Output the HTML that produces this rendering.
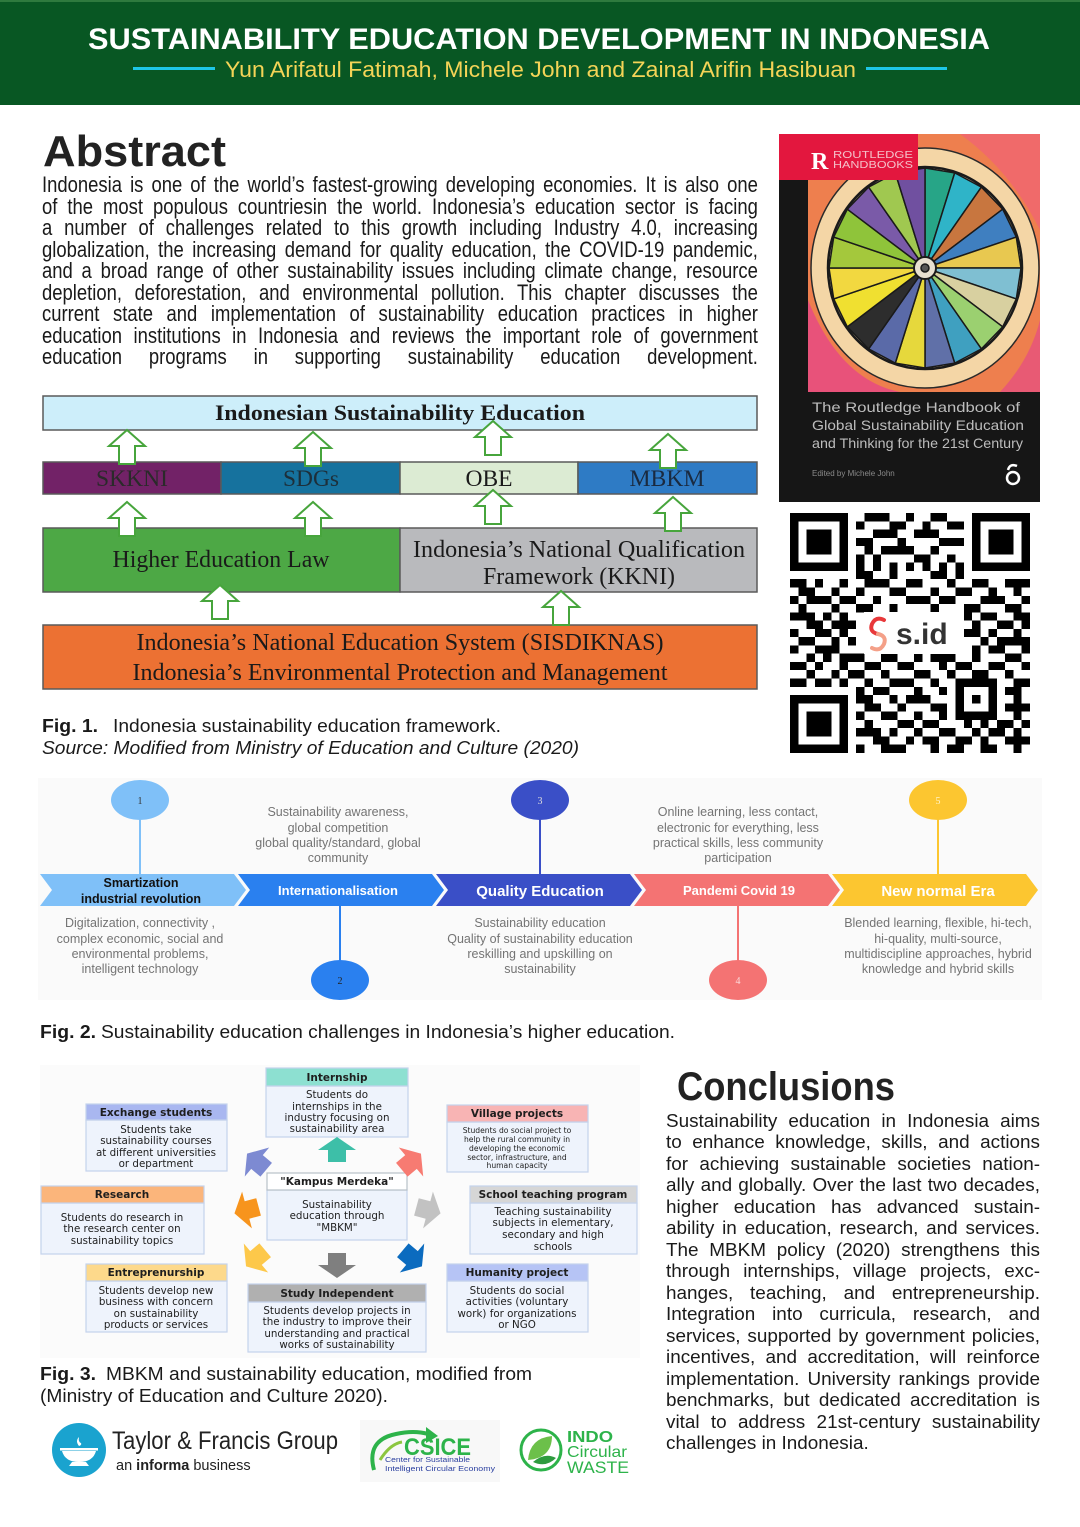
<!DOCTYPE html>
<html><head><meta charset="utf-8"><style>
html,body{margin:0;padding:0;background:#fff}
body{position:relative;width:1080px;height:1527px;overflow:hidden}
svg{display:block;position:absolute;left:0;top:0}
.abs{position:absolute;left:42px;top:174.4px;width:873px;transform:scaleX(0.82);transform-origin:0 0;font-family:"Liberation Sans",sans-serif;font-size:22.5px;line-height:21.5px;color:#1a1a1a}
.abs div,.con div{white-space:nowrap;text-align:justify;text-align-last:justify}
.con{position:absolute;left:666px;top:1110.6px;width:374px;font-family:"Liberation Sans",sans-serif;font-size:18.9px;line-height:21.5px;color:#1a1a1a}
.con div.last{text-align:left;text-align-last:left}
</style></head><body>
<svg xmlns="http://www.w3.org/2000/svg" width="1080" height="1527" viewBox="0 0 1080 1527" font-family="'Liberation Sans', sans-serif">
<rect width="1080" height="1527" fill="#fff"/>
<!-- HEADER -->
<rect x="0" y="0" width="1080" height="105" fill="#085723"/>
<rect x="0" y="0" width="1080" height="2" fill="#2e7a3e"/>
<text x="88" y="49" font-size="30" font-weight="bold" fill="#fff" textLength="902" lengthAdjust="spacingAndGlyphs">SUSTAINABILITY EDUCATION DEVELOPMENT IN INDONESIA</text>
<rect x="133" y="67" width="82" height="3" fill="#1ec6e6"/>
<rect x="866" y="67" width="81" height="3" fill="#1ec6e6"/>
<text x="225" y="77" font-size="22.5" fill="#f4d457" textLength="631" lengthAdjust="spacingAndGlyphs">Yun Arifatul Fatimah, Michele John and Zainal Arifin Hasibuan</text>

<!-- ABSTRACT heading -->
<text x="43" y="166" font-size="44" font-weight="bold" fill="#222" textLength="183" lengthAdjust="spacingAndGlyphs">Abstract</text>

<!-- FIG 1 -->
<g stroke="#5a5a5a" stroke-width="1.5">
<rect x="43" y="396" width="714" height="34" fill="#cdeefa"/>
<rect x="43" y="462" width="178" height="32" fill="#722267"/>
<rect x="221" y="462" width="179" height="32" fill="#16729e"/>
<rect x="400" y="462" width="178" height="32" fill="#dcebd3"/>
<rect x="578" y="462" width="179" height="32" fill="#2e7bc5"/>
<rect x="43" y="528" width="357" height="64" fill="#4da845"/>
<rect x="400" y="528" width="357" height="64" fill="#b9babd"/>
<rect x="43" y="625" width="714" height="64" fill="#ec7133"/>
</g>
<g font-family="'Liberation Serif', serif" fill="#1a1a1a" text-anchor="middle">
<text x="400" y="420" font-size="22" font-weight="bold" textLength="370" lengthAdjust="spacingAndGlyphs">Indonesian Sustainability Education</text>
<text x="132" y="486" font-size="23" fill="#2a2a2a" textLength="72" lengthAdjust="spacingAndGlyphs">SKKNI</text>
<text x="311" y="486" font-size="23" fill="#1d2f3a" textLength="56" lengthAdjust="spacingAndGlyphs">SDGs</text>
<text x="489" y="486" font-size="23" textLength="47" lengthAdjust="spacingAndGlyphs">OBE</text>
<text x="667" y="486" font-size="23" fill="#1a2a40" textLength="75" lengthAdjust="spacingAndGlyphs">MBKM</text>
<text x="221" y="567" font-size="24" textLength="217" lengthAdjust="spacingAndGlyphs">Higher Education Law</text>
<text x="579" y="557" font-size="24" textLength="332" lengthAdjust="spacingAndGlyphs">Indonesia’s National Qualification</text>
<text x="579" y="584" font-size="24" textLength="192" lengthAdjust="spacingAndGlyphs">Framework (KKNI)</text>
<text x="400" y="650" font-size="24" textLength="527" lengthAdjust="spacingAndGlyphs">Indonesia’s National Education System (SISDIKNAS)</text>
<text x="400" y="680" font-size="24" textLength="535" lengthAdjust="spacingAndGlyphs">Indonesia’s Environmental Protection and Management</text>
</g>
<g fill="#fff" stroke="#47a53c" stroke-width="2" stroke-linejoin="miter">
<polygon points="127,430 145,446 135,446 135,464 119,464 119,446 109,446"/>
<polygon points="313,432 331,448 321,448 321,466 305,466 305,448 295,448"/>
<polygon points="493,421 511,437 501,437 501,455 485,455 485,437 475,437"/>
<polygon points="668,434 686,450 676,450 676,468 660,468 660,450 650,450"/>
<polygon points="127,502 145,518 135,518 135,536 119,536 119,518 109,518"/>
<polygon points="313,502 331,518 321,518 321,536 305,536 305,518 295,518"/>
<polygon points="493,490 511,506 501,506 501,524 485,524 485,506 475,506"/>
<polygon points="673,497 691,513 681,513 681,531 665,531 665,513 655,513"/>
<polygon points="220,585 238,601 228,601 228,619 212,619 212,601 202,601"/>
<polygon points="561,591 579,607 569,607 569,625 553,625 553,607 543,607"/>
</g>
<g font-size="18.5" fill="#1a1a1a">
<text x="42" y="732" font-weight="bold" textLength="56" lengthAdjust="spacingAndGlyphs">Fig. 1.</text>
<text x="113" y="732" textLength="388" lengthAdjust="spacingAndGlyphs">Indonesia sustainability education framework.</text>
<text x="42" y="754" font-style="italic" textLength="537" lengthAdjust="spacingAndGlyphs">Source: Modified from Ministry of Education and Culture (2020)</text>
</g>

<!-- BOOK COVER -->
<rect x="779" y="134" width="261" height="368" fill="#161616"/>
<rect x="808" y="134" width="232" height="258" fill="#ee7f4e"/>
<path d="M808 300 Q840 380 900 392 L808 392Z" fill="#e8527a"/>
<path d="M960 134 Q1010 170 1040 230 L1040 134Z" fill="#f06a6a"/>
<path d="M1000 392 Q1030 360 1040 320 L1040 392Z" fill="#e85a74"/>
<ellipse cx="925" cy="268" rx="114" ry="120" fill="#f4d6a6" stroke="#2a2a2a" stroke-width="1.5"/>
<g stroke="#1a1a1a" stroke-width="1.5" stroke-linejoin="round" transform="translate(0 2)">
<polygon points="925,266 925,166 954.7,170.9" fill="#27a587"/>
<polygon points="925,266 954.7,170.9 981.4,185.1" fill="#2fb4c8"/>
<polygon points="925,266 981.4,185.1 1002.7,207.2" fill="#c8763f"/>
<polygon points="925,266 1002.7,207.2 1016.3,235.1" fill="#3f7fc0"/>
<polygon points="925,266 1016.3,235.1 1021,266" fill="#e8c850"/>
<polygon points="925,266 1021,266 1016.3,296.9" fill="#7fbfd2"/>
<polygon points="925,266 1016.3,296.9 1002.7,324.8" fill="#d8d0a0"/>
<polygon points="925,266 1002.7,324.8 981.4,346.9" fill="#9bd070"/>
<polygon points="925,266 981.4,346.9 954.7,361.1" fill="#3fa0c0"/>
<polygon points="925,266 954.7,361.1 925,366" fill="#6070a8"/>
<polygon points="925,266 925,366 895.3,361.1" fill="#e6d83c"/>
<polygon points="925,266 895.3,361.1 868.6,346.9" fill="#5a6aa8"/>
<polygon points="925,266 868.6,346.9 847.3,324.8" fill="#2d2d2d"/>
<polygon points="925,266 847.3,324.8 833.7,296.9" fill="#f0e030"/>
<polygon points="925,266 833.7,296.9 829,266" fill="#f2d840"/>
<polygon points="925,266 829,266 833.7,235.1" fill="#a4c83c"/>
<polygon points="925,266 833.7,235.1 847.3,207.2" fill="#8fc43a"/>
<polygon points="925,266 847.3,207.2 868.6,185.1" fill="#7a5aa8"/>
<polygon points="925,266 868.6,185.1 895.3,170.9" fill="#a0c850"/>
<polygon points="925,266 895.3,170.9 925,166" fill="#7050a0"/>
<ellipse cx="925" cy="266" rx="97" ry="101" fill="none" stroke-width="2.5"/>
<circle cx="925" cy="266" r="11" fill="#e8e0d0" stroke-width="2"/>
<circle cx="925" cy="266" r="4" fill="#555"/>
</g>
<rect x="779" y="134" width="139" height="46" fill="#e3173e"/>
<text x="811" y="169" font-size="24" font-weight="bold" fill="#fff" font-family="'Liberation Serif', serif">R</text>
<text x="833" y="158" font-size="10" fill="#f4c0c8" textLength="80" lengthAdjust="spacingAndGlyphs">ROUTLEDGE</text>
<text x="833" y="168" font-size="10" fill="#f4c0c8" textLength="80" lengthAdjust="spacingAndGlyphs">HANDBOOKS</text>
<g font-size="14" fill="#bdbdbd">
<text x="812" y="412" textLength="208" lengthAdjust="spacingAndGlyphs">The Routledge Handbook of</text>
<text x="812" y="430" textLength="212" lengthAdjust="spacingAndGlyphs">Global Sustainability Education</text>
<text x="812" y="448" textLength="211" lengthAdjust="spacingAndGlyphs">and Thinking for the 21st Century</text>
</g>
<text x="812" y="476" font-size="8" fill="#8a8a8a">Edited by Michele John</text>
<circle cx="1013" cy="478" r="6" fill="none" stroke="#fff" stroke-width="2.5"/>
<path d="M1008 470 Q1010 463 1017 466" fill="none" stroke="#fff" stroke-width="2.5"/>

<!-- QR -->
<rect x="786" y="509" width="248" height="248" fill="#fff"/>
<g transform="translate(790 513) scale(8.275)" shape-rendering="crispEdges">
<g fill="#000">
<rect x="0" y="0" width="7" height="7"/><rect x="22" y="0" width="7" height="7"/><rect x="0" y="22" width="7" height="7"/>
</g>
<g fill="#fff">
<rect x="1" y="1" width="5" height="5"/><rect x="23" y="1" width="5" height="5"/><rect x="1" y="23" width="5" height="5"/>
</g>
<g fill="#000">
<rect x="2" y="2" width="3" height="3"/><rect x="24" y="2" width="3" height="3"/><rect x="2" y="24" width="3" height="3"/>
<path d="M9 0h3v1h-3zM14 0h1v1h-1zM17 0h2v1h-2zM8 1h1v1h-1zM12 1h2v1h-2zM16 1h1v1h-1zM19 1h2v1h-2zM10 2h3v1h-3zM15 2h3v1h-3zM8 3h2v1h-2zM13 3h1v1h-1zM18 3h3v1h-3zM9 4h1v1h-1zM11 4h4v1h-4zM17 4h1v1h-1zM8 5h1v1h-1zM10 5h1v1h-1zM15 5h2v1h-2zM19 5h1v1h-1zM8 6h1v1h-1zM10 6h1v1h-1zM12 6h1v1h-1zM14 6h1v1h-1zM16 6h1v1h-1zM18 6h1v1h-1zM20 6h1v1h-1zM8 7h2v1h-2zM12 7h1v1h-1zM17 7h2v1h-2zM20 7h1v1h-1zM0 8h2v1h-2zM3 8h1v1h-1zM6 8h1v1h-1zM9 8h3v1h-3zM14 8h2v1h-2zM19 8h1v1h-1zM22 8h2v1h-2zM26 8h3v1h-3zM1 9h2v1h-2zM5 9h1v1h-1zM8 9h1v1h-1zM12 9h2v1h-2zM17 9h1v1h-1zM20 9h2v1h-2zM24 9h1v1h-1zM27 9h1v1h-1zM0 10h1v1h-1zM2 10h3v1h-3zM6 10h2v1h-2zM10 10h1v1h-1zM14 10h3v1h-3zM18 10h2v1h-2zM23 10h3v1h-3zM28 10h1v1h-1zM1 11h1v1h-1zM5 11h1v1h-1zM8 11h2v1h-2zM12 11h1v1h-1zM17 11h1v1h-1zM21 11h2v1h-2zM26 11h2v1h-2zM0 12h3v1h-3zM4 12h1v1h-1zM6 12h1v1h-1zM21 12h1v1h-1zM23 12h2v1h-2zM27 12h2v1h-2zM2 13h2v1h-2zM5 13h3v1h-3zM22 13h1v1h-1zM25 13h2v1h-2zM28 13h1v1h-1zM0 14h1v1h-1zM3 14h2v1h-2zM6 14h1v1h-1zM21 14h2v1h-2zM24 14h1v1h-1zM27 14h1v1h-1zM1 15h2v1h-2zM5 15h1v1h-1zM7 15h1v1h-1zM23 15h1v1h-1zM25 15h4v1h-4zM0 16h1v1h-1zM3 16h3v1h-3zM22 16h1v1h-1zM24 16h2v1h-2zM28 16h1v1h-1zM2 17h1v1h-1zM4 17h1v1h-1zM6 17h3v1h-3zM11 17h2v1h-2zM15 17h1v1h-1zM17 17h3v1h-3zM22 17h1v1h-1zM26 17h2v1h-2zM0 18h2v1h-2zM3 18h1v1h-1zM6 18h1v1h-1zM9 18h2v1h-2zM13 18h2v1h-2zM18 18h1v1h-1zM20 18h2v1h-2zM24 18h2v1h-2zM28 18h1v1h-1zM2 19h1v1h-1zM5 19h1v1h-1zM7 19h2v1h-2zM11 19h1v1h-1zM15 19h2v1h-2zM19 19h1v1h-1zM22 19h2v1h-2zM26 19h1v1h-1zM0 20h2v1h-2zM3 20h2v1h-2zM6 20h1v1h-1zM9 20h1v1h-1zM12 20h3v1h-3zM17 20h1v1h-1zM20 20h5v1h-5zM27 20h2v1h-2zM8 21h1v1h-1zM10 21h2v1h-2zM15 21h1v1h-1zM18 21h1v1h-1zM20 21h1v1h-1zM24 21h1v1h-1zM26 21h2v1h-2zM8 22h2v1h-2zM12 22h1v1h-1zM14 22h3v1h-3zM20 22h1v1h-1zM22 22h1v1h-1zM24 22h1v1h-1zM27 22h1v1h-1zM9 23h2v1h-2zM13 23h1v1h-1zM17 23h2v1h-2zM20 23h1v1h-1zM24 23h1v1h-1zM26 23h3v1h-3zM8 24h1v1h-1zM11 24h2v1h-2zM15 24h1v1h-1zM18 24h1v1h-1zM20 24h5v1h-5zM27 24h1v1h-1zM9 25h1v1h-1zM13 25h2v1h-2zM16 25h2v1h-2zM21 25h1v1h-1zM23 25h1v1h-1zM25 25h2v1h-2zM28 25h1v1h-1zM8 26h3v1h-3zM12 26h1v1h-1zM15 26h1v1h-1zM18 26h2v1h-2zM22 26h1v1h-1zM24 26h2v1h-2zM27 26h1v1h-1zM10 27h2v1h-2zM14 27h1v1h-1zM16 27h2v1h-2zM20 27h2v1h-2zM23 27h1v1h-1zM26 27h3v1h-3zM8 28h1v1h-1zM11 28h3v1h-3zM17 28h1v1h-1zM19 28h2v1h-2zM23 28h2v1h-2zM27 28h1v1h-1z"/>
</g>
</g>
<rect x="864" y="612" width="96" height="42" fill="#fff"/>
<path d="M884 620 Q876 616 872 624 Q869 632 878 634" fill="none" stroke="#e8383a" stroke-width="4" stroke-linecap="round"/>
<path d="M878 634 Q887 636 884 644 Q880 652 872 648" fill="none" stroke="#f4a088" stroke-width="4" stroke-linecap="round"/>
<text x="896" y="644" font-size="30" font-weight="bold" fill="#333">s.id</text>

<!-- FIG 2 -->
<rect x="38" y="778" width="1004" height="222" fill="#fafafa"/>
<g stroke-width="2">
<line x1="140" y1="818" x2="140" y2="876" stroke="#7fc0f8"/>
<line x1="340" y1="904" x2="340" y2="962" stroke="#2a80ef"/>
<line x1="540" y1="818" x2="540" y2="876" stroke="#3a4fc7"/>
<line x1="738" y1="904" x2="738" y2="962" stroke="#f47373"/>
<line x1="938" y1="818" x2="938" y2="876" stroke="#fcc630"/>
</g>
<ellipse cx="140" cy="800" rx="29" ry="20" fill="#7fc0f8"/>
<ellipse cx="340" cy="980" rx="29" ry="20" fill="#2a80ef"/>
<ellipse cx="540" cy="800" rx="29" ry="20" fill="#3a4fc7"/>
<ellipse cx="738" cy="980" rx="29" ry="20" fill="#f47373"/>
<ellipse cx="938" cy="800" rx="29" ry="20" fill="#fcc630"/>
<g font-size="10" text-anchor="middle" font-family="'Liberation Serif', serif">
<text x="140" y="804" fill="#333">1</text>
<text x="340" y="984" fill="#222">2</text>
<text x="540" y="804" fill="#ddd">3</text>
<text x="738" y="984" fill="#fbdcdc">4</text>
<text x="938" y="804" fill="#fff3c8">5</text>
</g>
<polygon points="40,874 234,874 246,890 234,906 40,906 52,890" fill="#7fc0f8"/>
<polygon points="238,874 432,874 444,890 432,906 238,906 250,890" fill="#2a80ef"/>
<polygon points="436,874 630,874 642,890 630,906 436,906 448,890" fill="#3a4fc7"/>
<polygon points="634,874 828,874 840,890 828,906 634,906 646,890" fill="#f47373"/>
<polygon points="832,874 1026,874 1038,890 1026,906 832,906 844,890" fill="#fcc630"/>
<g font-weight="bold" text-anchor="middle">
<text x="141" y="887" font-size="12.5" fill="#111">Smartization</text>
<text x="141" y="903" font-size="12.5" fill="#111">industrial revolution</text>
<text x="338" y="895" font-size="13" fill="#fff">Internationalisation</text>
<text x="540" y="896" font-size="15" fill="#fff">Quality Education</text>
<text x="739" y="895" font-size="13" fill="#fff">Pandemi Covid 19</text>
<text x="938" y="896" font-size="15" fill="#fff">New normal Era</text>
</g>
<g font-size="12.5" fill="#747474" text-anchor="middle">
<text x="338" y="816">Sustainability awareness,</text>
<text x="338" y="832">global competition</text>
<text x="338" y="847">global quality/standard, global</text>
<text x="338" y="862">community</text>
<text x="738" y="816">Online learning, less contact,</text>
<text x="738" y="832">electronic for everything, less</text>
<text x="738" y="847">practical skills, less community</text>
<text x="738" y="862">participation</text>
<text x="140" y="927">Digitalization, connectivity ,</text>
<text x="140" y="943">complex economic, social and</text>
<text x="140" y="958">environmental problems,</text>
<text x="140" y="973">intelligent technology</text>
<text x="540" y="927">Sustainability education</text>
<text x="540" y="943">Quality of sustainability education</text>
<text x="540" y="958">reskilling and upskilling on</text>
<text x="540" y="973">sustainability</text>
<text x="938" y="927">Blended learning, flexible, hi-tech,</text>
<text x="938" y="943">hi-quality, multi-source,</text>
<text x="938" y="958">multidiscipline approaches, hybrid</text>
<text x="938" y="973">knowledge and hybrid skills</text>
</g>
<g font-size="18.5" fill="#1a1a1a">
<text x="40" y="1038" font-weight="bold" textLength="56" lengthAdjust="spacingAndGlyphs">Fig. 2.</text>
<text x="101" y="1038" textLength="574" lengthAdjust="spacingAndGlyphs">Sustainability education challenges in Indonesia’s higher education.</text>
</g>

<!-- FIG 3 -->
<rect x="40" y="1065" width="600" height="293" fill="#fbfbfb"/>
<g stroke="#c4d3ec" stroke-width="1.2">
<rect x="266" y="1086" width="142" height="51" fill="#eef3fc"/><rect x="266" y="1068" width="142" height="18" fill="#8de0d1"/>
<rect x="86" y="1120" width="141" height="51" fill="#eef3fc"/><rect x="86" y="1104" width="141" height="16" fill="#a9b7f0"/>
<rect x="447" y="1122" width="141" height="50" fill="#eef3fc"/><rect x="447" y="1105" width="141" height="17" fill="#f8b4b4"/>
<rect x="267" y="1190" width="140" height="50" fill="#eef3fc"/><rect x="267" y="1173" width="140" height="17" fill="#ffffff" stroke="#b8c0c8"/>
<rect x="41" y="1203" width="163" height="51" fill="#eef3fc"/><rect x="41" y="1186" width="163" height="17" fill="#fbb57b"/>
<rect x="470" y="1203" width="167" height="51" fill="#eef3fc"/><rect x="470" y="1186" width="167" height="17" fill="#d6d6d6"/>
<rect x="86" y="1281" width="141" height="51" fill="#eef3fc"/><rect x="86" y="1264" width="141" height="17" fill="#fdd98b"/>
<rect x="248" y="1302" width="178" height="50" fill="#eef3fc"/><rect x="248" y="1284" width="178" height="18" fill="#b0b0b0"/>
<rect x="447" y="1281" width="141" height="51" fill="#eef3fc"/><rect x="447" y="1264" width="141" height="17" fill="#b6c4f5"/>
</g>
<g font-family="'DejaVu Sans', sans-serif" font-size="10.5" font-weight="bold" fill="#1e1e1e" text-anchor="middle">
<text x="337" y="1081">Internship</text>
<text x="156" y="1116">Exchange students</text>
<text x="517" y="1117">Village projects</text>
<text x="337" y="1185">"Kampus Merdeka"</text>
<text x="122" y="1198">Research</text>
<text x="553" y="1198">School teaching program</text>
<text x="156" y="1276">Entreprenurship</text>
<text x="337" y="1297">Study Independent</text>
<text x="517" y="1276">Humanity project</text>
</g>
<g font-family="'DejaVu Sans', sans-serif" font-size="10.3" fill="#1e1e1e" text-anchor="middle">
<text x="337" y="1098">Students do</text>
<text x="337" y="1110">internships in the</text>
<text x="337" y="1121">industry focusing on</text>
<text x="337" y="1132">sustainability area</text>
<text x="156" y="1133">Students take</text>
<text x="156" y="1144">sustainability  courses</text>
<text x="156" y="1156">at different universities</text>
<text x="156" y="1167">or department</text>
<text x="337" y="1208">Sustainability</text>
<text x="337" y="1219">education through</text>
<text x="337" y="1231">"MBKM"</text>
<text x="122" y="1221">Students do research in</text>
<text x="122" y="1232">the research center on</text>
<text x="122" y="1244">sustainability topics</text>
<text x="553" y="1215">Teaching sustainability</text>
<text x="553" y="1226">subjects in elementary,</text>
<text x="553" y="1238">secondary and high</text>
<text x="553" y="1250">schools</text>
<text x="156" y="1294">Students develop new</text>
<text x="156" y="1305">business with concern</text>
<text x="156" y="1317">on sustainability</text>
<text x="156" y="1328">products or services</text>
<text x="337" y="1314">Students develop projects in</text>
<text x="337" y="1325">the industry to improve their</text>
<text x="337" y="1337">understanding and practical</text>
<text x="337" y="1348">works of sustainability</text>
<text x="517" y="1294">Students do social</text>
<text x="517" y="1305">activities (voluntary</text>
<text x="517" y="1317">work) for organizations</text>
<text x="517" y="1328">or NGO</text>
</g>
<g font-family="'DejaVu Sans', sans-serif" font-size="7.6" fill="#1e1e1e" text-anchor="middle">
<text x="517" y="1133">Students do social project to</text>
<text x="517" y="1142">help the rural community in</text>
<text x="517" y="1151">developing the economic</text>
<text x="517" y="1160">sector, infrastructure, and</text>
<text x="517" y="1168">human capacity</text>
</g>
<defs><polygon id="ba" points="0,-13 -19,0 -9,0 -9,12 9,12 9,0 19,0"/></defs>
<use href="#ba" transform="translate(337 1150)" fill="#3dbfa8"/>
<use href="#ba" transform="translate(257 1162) rotate(-50)" fill="#7d8ad2"/>
<use href="#ba" transform="translate(411 1162) rotate(50)" fill="#f77b72"/>
<use href="#ba" transform="translate(247 1210) rotate(-105)" fill="#f7941d"/>
<use href="#ba" transform="translate(428 1210) rotate(105)" fill="#c2c2c2"/>
<use href="#ba" transform="translate(256 1258) rotate(-130)" fill="#fdc84a"/>
<use href="#ba" transform="translate(337 1265) rotate(180)" fill="#7f7f7f"/>
<use href="#ba" transform="translate(412 1258) rotate(130)" fill="#0b6bbf"/>
<g font-size="18.5" fill="#1a1a1a">
<text x="40" y="1380" font-weight="bold" textLength="56" lengthAdjust="spacingAndGlyphs">Fig. 3.</text>
<text x="106" y="1380" textLength="426" lengthAdjust="spacingAndGlyphs">MBKM and sustainability education, modified from</text>
<text x="40" y="1402" textLength="348" lengthAdjust="spacingAndGlyphs">(Ministry of Education and Culture 2020).</text>
</g>

<!-- LOGOS -->
<circle cx="79" cy="1450" r="27" fill="#1aa3cf"/>
<path d="M62 1451 h34 q-3 11 -17 11 q-14 0 -17 -11z" fill="#fff"/>
<rect x="60" y="1448" width="38" height="2.5" fill="#fff"/>
<path d="M72 1462 h14 l3 4 h-20z" fill="#fff"/>
<path d="M79 1446 q-4 -5 0 -9 q-1 5 2 6 q1 2 -2 3z" fill="#fff"/>
<text x="112" y="1449" font-size="25" fill="#222" textLength="226" lengthAdjust="spacingAndGlyphs">Taylor &amp; Francis Group</text>
<text x="116" y="1470" font-size="14.5" fill="#222">an <tspan font-weight="bold">informa</tspan> business</text>
<rect x="360" y="1420" width="140" height="62" fill="#f8f8f8"/>
<path d="M374 1470 Q366 1440 396 1434 Q414 1430 428 1434" fill="none" stroke="#2db34a" stroke-width="4"/>
<polygon points="426,1427 438,1436 426,1443" fill="#2db34a"/>
<path d="M380 1460 q10 -16 22 -18" fill="none" stroke="#8cc63f" stroke-width="3"/>
<text x="404" y="1455" font-size="24" font-weight="bold" fill="#2db34a" textLength="67" lengthAdjust="spacingAndGlyphs">CSICE</text>
<text x="385" y="1462" font-size="7.5" fill="#2a3f9f" textLength="85" lengthAdjust="spacingAndGlyphs">Center for Sustainable</text>
<text x="385" y="1471" font-size="7.5" fill="#2a3f9f" textLength="110" lengthAdjust="spacingAndGlyphs">Intelligent Circular Economy</text>
<circle cx="541" cy="1450" r="20" fill="none" stroke="#2db34a" stroke-width="3"/>
<path d="M528 1460 Q530 1438 552 1436 Q552 1458 528 1460z" fill="#6cc04a"/>
<path d="M533 1462 Q545 1452 556 1458 Q546 1468 533 1462z" fill="#2e9b3f"/>
<text x="567" y="1442" font-size="16" font-weight="bold" fill="#2db34a" textLength="46" lengthAdjust="spacingAndGlyphs">INDO</text>
<text x="567" y="1457" font-size="16" fill="#2db34a" textLength="60" lengthAdjust="spacingAndGlyphs">Circular</text>
<text x="567" y="1473" font-size="17" fill="#2db34a" textLength="62" lengthAdjust="spacingAndGlyphs">WASTE</text>

<!-- CONCLUSIONS heading -->
<text x="677" y="1100" font-size="40" font-weight="bold" fill="#222" textLength="218" lengthAdjust="spacingAndGlyphs">Conclusions</text>
</svg>

<div class="abs">
<div>Indonesia is one of the world’s fastest-growing developing economies. It is also one</div>
<div>of the most populous countriesin the world. Indonesia’s education sector is facing</div>
<div>a number of challenges related to this growth including Industry 4.0, increasing</div>
<div>globalization, the increasing demand for quality education, the COVID-19 pandemic,</div>
<div>and a broad range of other sustainability issues including climate change, resource</div>
<div>depletion, deforestation, and environmental pollution. This chapter discusses the</div>
<div>current state and implementation of sustainability education practices in higher</div>
<div>education institutions in Indonesia and reviews the important role of government</div>
<div>education programs in supporting sustainability education development.</div>
</div>

<div class="con">
<div>Sustainability education in Indonesia aims</div>
<div>to enhance knowledge, skills, and actions</div>
<div>for achieving sustainable societies nation-</div>
<div>ally and globally. Over the last two decades,</div>
<div>higher education has advanced sustain-</div>
<div>ability in education, research, and services.</div>
<div>The MBKM policy (2020) strengthens this</div>
<div>through internships, village projects, exc-</div>
<div>hanges, teaching, and entrepreneurship.</div>
<div>Integration into curricula, research, and</div>
<div>services, supported by government policies,</div>
<div>incentives, and accreditation, will reinforce</div>
<div>implementation. University rankings provide</div>
<div>benchmarks, but dedicated accreditation is</div>
<div>vital to address 21st-century sustainability</div>
<div class="last">challenges in Indonesia.</div>
</div>
</body></html>
